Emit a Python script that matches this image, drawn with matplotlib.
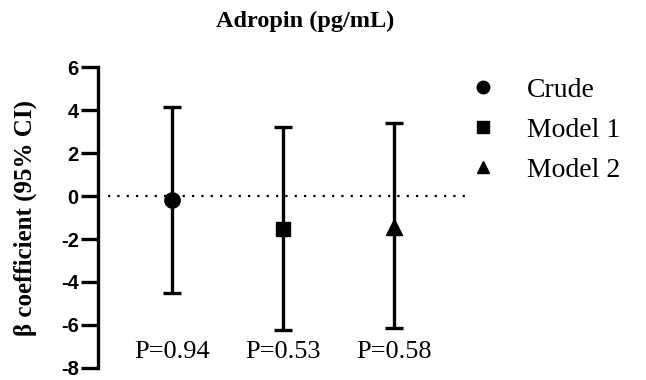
import numpy as np
import matplotlib.pyplot as plt
from matplotlib.lines import Line2D

# values
models = ['Crude', 'Model 1', 'Model 2']
beta = [-0.2, -1.55, -1.45]
ci_low = [-4.5, -6.25, -6.15]
ci_high = [4.17, 3.2, 3.42]
p_labels = ['P=0.94', 'P=0.53', 'P=0.58']
markers = ['o', 's', '^']
yticks = [6, 4, 2, 0, -2, -4, -6, -8]

serif = ['Liberation Serif', 'DejaVu Serif']

fig = plt.figure(figsize=(6.46, 3.8), dpi=100)
ax = fig.add_axes([0.152, 0.032, 0.571, 0.791])

x = np.arange(1, len(models) + 1)
ax.hlines(0, 0.42, 3.65, colors='black', linestyles=(0, (1, 3.2)), linewidth=1.6)
for xi, b, lo, hi, m in zip(x, beta, ci_low, ci_high, markers):
    ax.errorbar(xi, b, yerr=[[b - lo], [hi - b]], fmt=m, color='black',
                ecolor='black', elinewidth=2.4, capsize=6.5, capthick=2.4,
                markersize=11 if m != 's' else 10)

for xi, p in zip(x, p_labels):
    ax.text(xi, -7.25, p, ha='center', va='center', family=serif, fontsize=19)

ax.set_xlim(0.33, 3.66)
ax.set_ylim(-8, 6)
ax.set_yticks(yticks)
ax.set_yticklabels([str(t) for t in yticks], family=['Liberation Sans', 'DejaVu Sans'],
                   fontweight='bold', fontsize=14.5)
ax.tick_params(axis='y', direction='out', length=12, width=2.4, pad=2)
ax.set_xticks([])
for s in ['top', 'right', 'bottom']:
    ax.spines[s].set_visible(False)
ax.spines['left'].set_linewidth(2.4)

ax.set_ylabel('β coefficient (95% CI)', family=serif, fontweight='bold', fontsize=18, labelpad=17)
fig.suptitle('Adropin (pg/mL)', x=0.472, y=0.972, family=serif, fontweight='bold', fontsize=17.5)

handles = [Line2D([], [], marker=m, color='black', linestyle='none', markersize=9)
           for m in markers]
fig.legend(handles, models, loc='upper left', bbox_to_anchor=(0.687, 0.862),
           frameon=False, prop={'family': serif, 'size': 20}, handlelength=1,
           handletextpad=1.1, labelspacing=0.52)

fig.savefig('out.png', dpi=100)
